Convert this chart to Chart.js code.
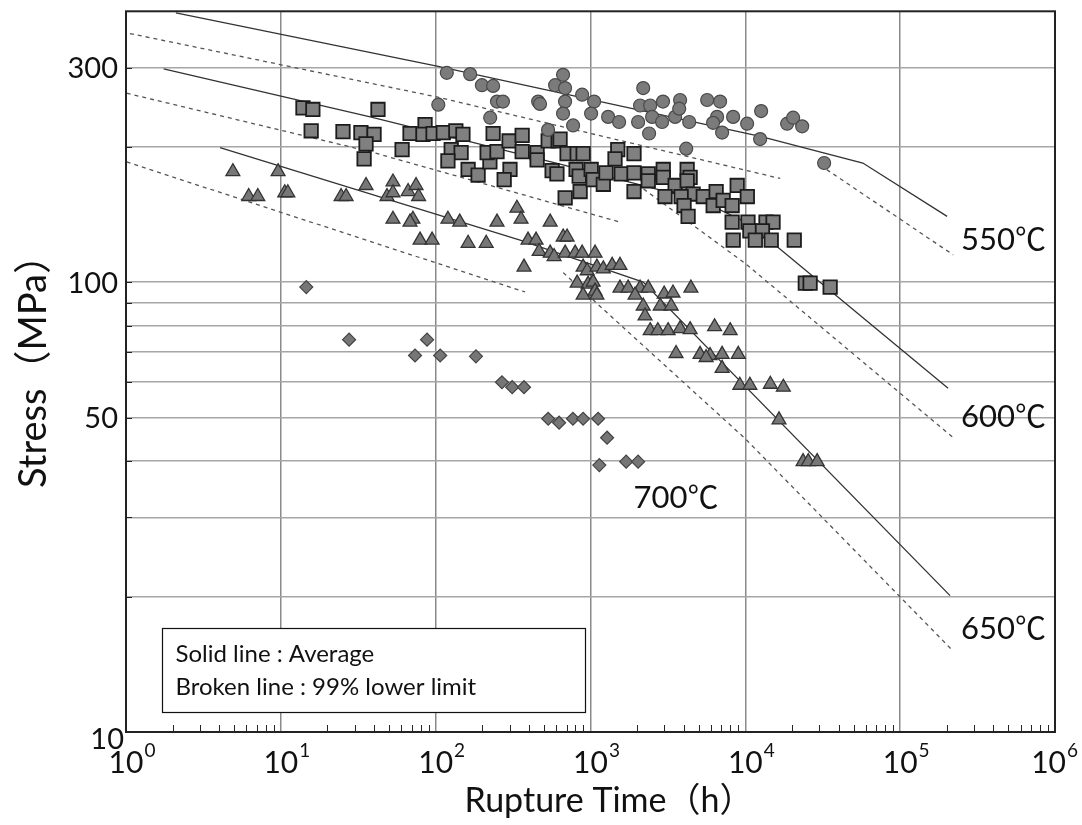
<!DOCTYPE html>
<html>
<head>
<meta charset="utf-8">
<script src="https://cdn.jsdelivr.net/npm/chart.js@4.4.1/dist/chart.umd.min.js"></script>
<style>
  html, body { margin: 0; padding: 0; background: #fff; }
  #wrap { width: 1082px; height: 825px; }
</style>
</head>
<body>
<div id="wrap"><canvas id="chart" width="1082" height="825"></canvas></div>
<script>
// 550°C data (circles): rupture time [h] and stress [MPa]
const circT = [118, 167, 199, 235, 104, 249, 272, 459, 472, 225, 532, 665, 591, 685, 685, 665, 772, 883, 1055, 1009,
  1300, 1530, 2190, 2090, 2430, 2940, 2030, 2500, 2900, 2390, 3520, 3790, 3740, 4340, 5670, 6870, 6570, 6190, 8340, 7080,
  10270, 4150, 12650, 12460, 18620, 20360, 23280, 32280];
const circS = [292, 290, 274, 273, 248, 252, 252, 252, 249, 232, 218, 289, 274, 270, 252, 237, 223, 261, 252, 237,
  233, 227, 270, 247, 247, 252, 227, 233, 227, 214, 233, 254, 243, 227, 254, 252, 233, 226, 233, 215,
  225, 198, 240, 208, 225, 232, 222, 184];

// 600°C data (squares)
const sqT = [13.9, 16.1, 15.7, 42.4, 25.2, 32.9, 40.0, 35.5, 34.5, 60.7, 68.3, 85.4, 82.8, 96.2,
  112, 135, 150, 235, 126, 146, 120, 162, 188, 224, 215, 249, 298, 362, 362, 302, 277, 452, 452, 533, 618,
  565, 607, 706, 820, 896, 686, 857, 636, 807, 845, 1010, 1040, 1210, 1260, 1500, 1440, 1580, 1910, 1910,
  1910, 2360, 2360, 2950, 2950, 3520, 3030, 4210, 4400, 4210, 4600, 3850, 4020, 4270, 5350, 6480, 6200,
  7190, 8220, 8860, 10300, 8220, 10400, 13600, 15100, 8350, 10700, 12900, 11600, 14700, 20700, 24400,
  26200, 35300];
const sqS = [244, 242, 217, 242, 216, 215, 213, 203, 188, 197, 214, 224, 213, 214,
  215, 217, 213, 214, 197, 194, 186, 178, 173, 185, 194, 195, 206, 212, 195, 178, 169, 194, 187, 206, 206,
  177, 174, 193, 193, 193, 154, 159, 208, 178, 172, 178, 169, 165, 175, 197, 188, 174, 193, 159,
  175, 174, 168, 178, 171, 164, 155, 178, 171, 168, 157, 155, 148, 140, 155, 159, 148,
  152, 148, 164, 155, 136, 136, 136, 136, 124, 130, 130, 124, 124, 124, 99.5,
  99.5, 97.5];

// 650°C data (triangles)
const triT = [4.9, 9.6, 6.2, 7.1, 10.6, 11.1, 24.5, 26.4, 35.5, 53.0, 48.5, 53.0, 66.4, 74.7, 77.6, 53.0, 71.3, 68.3,
  79.3, 94.8, 120, 143, 162, 212, 249, 335, 356, 372, 549, 395, 445, 466, 549, 582, 666, 706, 686, 796, 883,
  1070, 896, 952, 1100, 1210, 1380, 1550, 820, 965, 1040, 896, 1070, 1100, 1550, 1750, 2090, 2360, 1940,
  2990, 3410, 4450, 2190, 2820, 3320, 2250, 2430, 2720, 3170, 3790, 4400, 6330, 7980, 3570, 5100, 5920,
  7080, 9000, 5580, 7080, 9210, 10700, 14500, 17600, 16500, 23600, 25500, 29100];
const triS = [176, 176, 155, 155, 158, 158, 155, 155, 164, 167, 155, 158, 159, 164, 155, 138, 138, 136,
  124, 124, 138, 136, 122, 122, 136, 146, 138, 108, 136, 124, 124, 117, 116, 114, 126, 126, 116, 116, 116,
  116, 108, 106, 108, 107, 109, 109, 99.5, 99, 100, 93.6, 95.5, 93.6, 97, 97, 97, 97, 93.6,
  94.1, 94.6, 97, 88.5, 88.5, 88.5, 84.1, 78, 78, 78, 78.8, 78.4, 79.6, 78, 69.4, 69.1, 68.7,
  69.1, 69.1, 68, 64.3, 59, 59, 59.3, 58.4, 49.4, 39.9, 39.9, 39.9];

// 700°C data (diamonds)
const diaT = [14.6, 27.6, 88, 73.6, 107, 182, 268, 312, 372, 533, 627, 770, 896, 1120, 1280, 1140, 1700, 2030];
const diaS = [97.5, 74.5, 74.5, 68.7, 68.7, 68.4, 59.9, 58.4, 58.4, 49.7, 48.7, 49.7, 49.7, 49.7, 45.1, 39.2, 39.9, 39.9];

// Average (solid) and 99% lower limit (broken) curves
const avg550T = [2.1, 102, 12500, 57400, 201000];
const avg550S = [397, 302, 211, 184, 140];
const low550aT = [1.06, 102, 16800];
const low550aS = [357, 258, 170];
const low550bT = [30400, 220000];
const low550bS = [182, 115];

const avg600T = [1.75, 37.8, 636, 5100, 9210, 16000, 204000];
const avg600S = [298, 233, 183, 152, 138, 120, 58.1];
const low600aT = [1.01, 37.8, 1550];
const low600aS = [263, 195, 136];
const low600bT = [2000, 10000, 217000];
const low600bS = [165, 110, 45.3];

const avg650T = [4.05, 351, 2190, 210000];
const avg650S = [199, 124, 100, 20.1];
const low650aT = [1.01, 378];
const low650aS = [185, 95.1];
const low650bT = [666, 9970, 217000];
const low650bS = [105, 44.9, 15.2];

// axes
const xTicks = [1, 10, 100, 1000, 10000, 100000, 1000000];
const yTicks = [10, 20, 30, 40, 50, 60, 70, 80, 90, 100, 200, 300, 400];
const yLabels = [10, 50, 100, 300];

// temperature labels
const tempText = ['550\u2103', '600\u2103', '650\u2103', '700\u2103'];
const tempT = [465000, 465000, 465000, 3570];
const tempS = [124, 50.1, 16.9, 33.1];

const FONT = 'Lato, "Noto Sans CJK JP", sans-serif';

function pts(ts, ss) {
  return ts.map((t, i) => ({ x: t, y: ss[i] }));
}

function markers(label, ts, ss, style, r, fill, edge, bw) {
  return {
    label: label,
    data: pts(ts, ss),
    showLine: false,
    pointStyle: style,
    pointRadius: r,
    pointHoverRadius: r,
    backgroundColor: fill,
    borderColor: edge,
    borderWidth: bw
  };
}

function curve(label, ts, ss, dashed) {
  return {
    label: label,
    data: pts(ts, ss),
    showLine: true,
    pointRadius: 0,
    borderColor: dashed ? '#555' : '#333',
    borderWidth: 1.3,
    borderDash: dashed ? [4, 4] : [],
    tension: 0,
    fill: false
  };
}

const decor = {
  id: 'decor',
  afterDatasetsDraw(chart) {
    const ctx = chart.ctx;
    const a = chart.chartArea;
    const x = chart.scales.x;
    const y = chart.scales.y;
    ctx.save();

    // minor ticks on the time axis
    ctx.strokeStyle = '#222';
    ctx.lineWidth = 1;
    for (let d = 0; d < 6; d++) {
      for (let m = 2; m <= 9; m++) {
        const px = Math.round(x.getPixelForValue(m * Math.pow(10, d))) + 0.5;
        ctx.beginPath();
        ctx.moveTo(px, a.bottom);
        ctx.lineTo(px, a.bottom - 7);
        ctx.stroke();
      }
    }
    // inner ticks on stress axis
    yTicks.forEach(v => {
      const py = Math.round(y.getPixelForValue(v)) + 0.5;
      ctx.beginPath();
      ctx.moveTo(a.left, py);
      ctx.lineTo(a.left + 6, py);
      ctx.stroke();
    });

    // frame
    ctx.strokeStyle = '#222';
    ctx.lineWidth = 2;
    ctx.strokeRect(a.left, a.top, a.right - a.left, a.bottom - a.top);

    ctx.fillStyle = '#111';

    // x tick labels 10^n, whole label roughly centred on the tick
    ctx.textBaseline = 'alphabetic';
    ctx.textAlign = 'left';
    xTicks.forEach((v, k) => {
      const px = x.getPixelForValue(v);
      ctx.font = '30px ' + FONT;
      const wBase = ctx.measureText('10').width;
      ctx.font = '19px ' + FONT;
      const wSup = ctx.measureText(String(k)).width;
      const total = wBase + 1 + wSup;
      let left = px - total / 2 + 6;
      if (left + total > chart.width - 4) left = chart.width - 4 - total;
      ctx.font = '30px ' + FONT;
      ctx.fillText('10', left, a.bottom + 41);
      ctx.font = '19px ' + FONT;
      ctx.fillText(String(k), left + wBase + 1, a.bottom + 25);
    });

    // y tick labels
    ctx.font = '29px ' + FONT;
    ctx.textAlign = 'right';
    ctx.textBaseline = 'middle';
    yLabels.forEach(v => {
      const py = y.getPixelForValue(v);
      if (v === 10) {
        ctx.fillText('10', a.left - 2, py + 8);
      } else {
        ctx.fillText(String(v), a.left - 8, py + 1);
      }
    });

    // axis titles
    ctx.textAlign = 'center';
    ctx.textBaseline = 'middle';
    ctx.font = '34px ' + FONT;
    ctx.fillText('Rupture Time\uFF08h\uFF09', 609, 801);
    ctx.save();
    ctx.translate(34, 362);
    ctx.rotate(-Math.PI / 2);
    ctx.font = '38px ' + FONT;
    ctx.fillText('Stress\uFF08MPa\uFF09', 0, 0);
    ctx.restore();

    // temperature labels
    ctx.font = '31px ' + FONT;
    tempText.forEach((txt, i) => {
      ctx.fillText(txt, x.getPixelForValue(tempT[i]), y.getPixelForValue(tempS[i]));
    });

    // legend box
    const bx = a.left + 36.5, by = 628.5, bw = 423, bh = 84;
    ctx.fillStyle = '#fff';
    ctx.fillRect(bx, by, bw, bh);
    ctx.strokeStyle = '#111';
    ctx.lineWidth = 1.2;
    ctx.strokeRect(bx, by, bw, bh);
    ctx.fillStyle = '#111';
    ctx.font = '24px ' + FONT;
    ctx.textAlign = 'left';
    ctx.textBaseline = 'middle';
    ctx.fillText('Solid line : Average', bx + 13, 654);
    ctx.fillText('Broken line : 99% lower limit', bx + 13, 687);

    ctx.restore();
  }
};

new Chart(document.getElementById('chart'), {
  type: 'scatter',
  data: {
    datasets: [
      markers('550', circT, circS, 'circle', 6.5, '#7b7b7b', '#4a4a4a', 1.2),
      markers('600', sqT, sqS, 'rect', 9.5, '#808080', '#1c1c1c', 1.8),
      markers('650', triT, triS, 'triangle', 8, '#777777', '#333333', 1.3),
      markers('700', diaT, diaS, 'rectRot', 6.5, '#767676', '#444444', 1.2),
      curve('avg550', avg550T, avg550S, false),
      curve('low550a', low550aT, low550aS, true),
      curve('low550b', low550bT, low550bS, true),
      curve('avg600', avg600T, avg600S, false),
      curve('low600a', low600aT, low600aS, true),
      curve('low600b', low600bT, low600bS, true),
      curve('avg650', avg650T, avg650S, false),
      curve('low650a', low650aT, low650aS, true),
      curve('low650b', low650bT, low650bS, true)
    ]
  },
  options: {
    responsive: false,
    animation: false,
    devicePixelRatio: 1,
    layout: { padding: { top: 7, right: 27, left: 0, bottom: 0 } },
    plugins: {
      legend: { display: false },
      tooltip: { enabled: false }
    },
    scales: {
      x: {
        type: 'logarithmic',
        min: 1,
        max: 1000000,
        afterBuildTicks: s => { s.ticks = xTicks.map(v => ({ value: v })); },
        afterFit: s => { s.height = 93; },
        ticks: { display: false },
        border: { display: false },
        grid: {
          drawTicks: false,
          lineWidth: 1.5,
          color: c => (c.tick && (c.tick.value === 1 || c.tick.value === 1000000)) ? 'rgba(0,0,0,0)' : '#8a8a8a'
        }
      },
      y: {
        type: 'logarithmic',
        min: 10,
        max: 400,
        afterBuildTicks: s => { s.ticks = yTicks.map(v => ({ value: v })); },
        afterFit: s => { s.width = 126; },
        ticks: { display: false },
        border: { display: false },
        grid: {
          drawTicks: false,
          lineWidth: 1.5,
          color: c => (c.tick && (c.tick.value === 10 || c.tick.value === 400)) ? 'rgba(0,0,0,0)' : '#a6a6a6'
        }
      }
    }
  },
  plugins: [decor]
});
</script>
</body>
</html>
